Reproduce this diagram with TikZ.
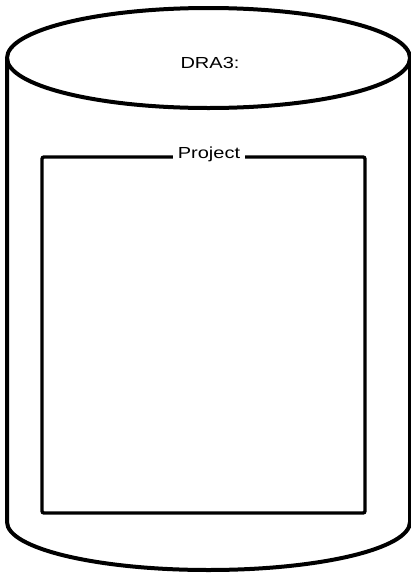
\documentclass[tikz,border=0pt]{standalone}
\usepackage{fontspec}
\newfontfamily\dskfont[FakeStretch=1.25]{Liberation Sans}
\usetikzlibrary{calc}

\begin{document}
\begin{tikzpicture}[x=1pt, y=-1pt,
    disk/.style={line width=4pt},
    dsktext/.style={font=\dskfont\fontsize{16}{18}\selectfont, inner sep=0pt}]
    \useasboundingbox (0,0) rectangle (411,574);

    % Top of the disk
    \draw[disk] (208.5,58) ellipse [x radius=201.5, y radius=50];
    \node[dsktext, anchor=base] (dsk) at (210,68) {DRA3:};

    % Sides and bottom
    \draw[disk] (7,58) -- (7,522)
        arc [start angle=180, end angle=0, x radius=201.5, y radius=48]
        -- (410,58);

    % Project area
    \node[draw, line width=3.4pt, rounded corners=2pt, inner sep=0pt,
          minimum width=323pt, minimum height=356pt] (area) at (203.5,335) {};
    \node[dsktext, anchor=base, fill=white, inner xsep=5pt, inner ysep=2pt] (prj) at (209,158) {Project};
\end{tikzpicture}
\end{document}
